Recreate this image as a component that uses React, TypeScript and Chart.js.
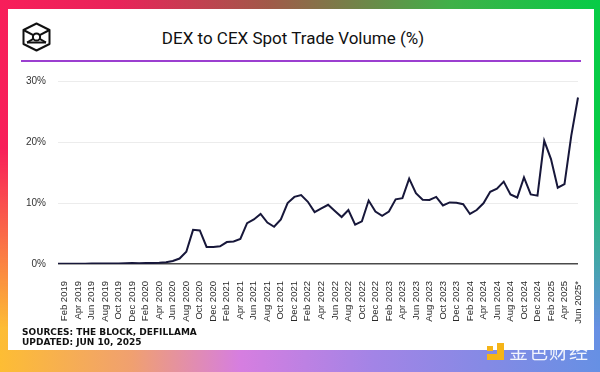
import React, { useEffect, useRef } from "react";
import { Chart, registerables } from "chart.js";

Chart.register(...registerables);

const MONTHS = ["Jan", "Feb", "Mar", "Apr", "May", "Jun", "Jul", "Aug", "Sep", "Oct", "Nov", "Dec"];
const YEARS = [2019, 2020, 2021, 2022, 2023, 2024, 2025];
const LAST_MONTH_2025 = 6;

const CATEGORIES: string[] = [];
YEARS.forEach((y) => {
  const n = y === 2025 ? LAST_MONTH_2025 : 12;
  for (let m = 0; m < n; m++) CATEGORIES.push(`${MONTHS[m]} ${y}`);
});
CATEGORIES[CATEGORIES.length - 1] = CATEGORIES[CATEGORIES.length - 1] + "*";

const DEX_CEX_2019 = [0.05, 0.05, 0.05, 0.06, 0.06, 0.07, 0.07, 0.08, 0.08, 0.1, 0.12, 0.15];
const DEX_CEX_2020 = [0.14, 0.15, 0.18, 0.2, 0.3, 0.5, 0.9, 2.0, 5.6, 5.5, 2.8, 2.8];
const DEX_CEX_2021 = [2.9, 3.6, 3.7, 4.1, 6.7, 7.3, 8.2, 6.8, 6.1, 7.3, 10.0, 11.0];
const DEX_CEX_2022 = [11.3, 10.2, 8.5, 9.1, 9.7, 8.7, 7.7, 8.85, 6.45, 7.0, 10.4, 8.6];
const DEX_CEX_2023 = [7.9, 8.6, 10.6, 10.8, 14.0, 11.6, 10.55, 10.5, 11.0, 9.6, 10.1, 10.05];
const DEX_CEX_2024 = [9.8, 8.2, 8.85, 9.95, 11.85, 12.35, 13.5, 11.4, 10.9, 14.2, 11.4, 11.2];
const DEX_CEX_2025 = [20.2, 17.2, 12.5, 13.1, 21.0, 27.3];

const VALUES = [
  ...DEX_CEX_2019,
  ...DEX_CEX_2020,
  ...DEX_CEX_2021,
  ...DEX_CEX_2022,
  ...DEX_CEX_2023,
  ...DEX_CEX_2024,
  ...DEX_CEX_2025,
];

const Y_TICKS = [0, 10, 20, 30];

const TITLE = "DEX to CEX Spot Trade Volume (%)";
const SOURCE_1 = "SOURCES: THE BLOCK, DEFILLAMA";
const SOURCE_2 = "UPDATED: JUN 10, 2025";

function Logo() {
  return (
    <svg width="29" height="30" viewBox="0 0 29 30" style={{ position: "absolute", left: 22, top: 22 }}>
      <g fill="none" stroke="#111" strokeWidth="2" strokeLinejoin="round">
        <polygon points="14.5,1.5 27.5,8 27.5,22 14.5,28.5 1.5,22 1.5,8" />
        <circle cx="14.5" cy="15" r="3.6" />
        <line x1="1.5" y1="8" x2="11.3" y2="13.2" />
        <line x1="27.5" y1="8" x2="17.7" y2="13.2" />
        <line x1="11.3" y1="16.8" x2="5" y2="20.5" />
        <line x1="17.7" y1="16.8" x2="24" y2="20.5" />
        <line x1="5" y1="20.5" x2="24" y2="20.5" />
      </g>
    </svg>
  );
}

export default function App() {
  const ref = useRef<HTMLCanvasElement>(null);

  useEffect(() => {
    if (!ref.current) return;
    const chart = new Chart(ref.current, {
      type: "line",
      data: {
        labels: CATEGORIES,
        datasets: [
          {
            data: VALUES,
            borderColor: "#17173a",
            borderWidth: 2,
            pointRadius: 0,
            tension: 0,
            fill: false,
          },
        ],
      },
      options: {
        responsive: false,
        devicePixelRatio: 1,
        animation: false,
        layout: { padding: { top: 81, right: 22, bottom: 0, left: 0 } },
        plugins: { legend: { display: false }, tooltip: { enabled: false } },
        scales: {
          x: {
            grid: { display: false },
            border: { display: false },
            ticks: {
              autoSkip: false,
              maxRotation: 90,
              minRotation: 90,
              padding: 9,
              color: "#2a2a2a",
              font: { family: "'Liberation Sans', Arial, sans-serif", size: 9.5 },
              callback: (_v: any, i: number) => (i % 2 === 1 ? CATEGORIES[i] : ""),
            },
            afterFit: (s: any) => {
              s.height = 108;
            },
          },
          y: {
            min: Y_TICKS[0],
            max: Y_TICKS[Y_TICKS.length - 1],
            afterBuildTicks: (s: any) => {
              s.ticks = Y_TICKS.map((v) => ({ value: v }));
            },
            ticks: {
              padding: 12,
              color: "#333",
              font: { family: "'Liberation Sans', Arial, sans-serif", size: 10 },
              callback: (v: any) => `${v}%`,
            },
            grid: {
              drawTicks: false,
              color: (c: any) => (c.tick && c.tick.value === 0 ? "#4a4a4a" : "#ececec"),
              lineWidth: (c: any) => (c.tick && c.tick.value === 0 ? 1.5 : 1),
            },
            border: { display: false },
            afterFit: (s: any) => {
              s.width = 58;
            },
          },
        },
      },
    });
    return () => chart.destroy();
  }, []);

  return (
    <div
      style={{
        position: "fixed",
        left: 0,
        top: 0,
        width: 600,
        height: 372,
        overflow: "hidden",
        background: "linear-gradient(to right, #fdbd34 0%, #f0a070 22%, #d67ee0 40%, #a384e6 62%, #6690e4 100%)",
      }}
    >
      <div
        style={{
          position: "absolute",
          inset: 0,
          background: "linear-gradient(to right, #f81e5a 0%, #e8245a 20%, #a05a48 45%, #40b048 75%, #06cc46 100%)",
          WebkitMaskImage: "linear-gradient(to bottom, black 0%, black 40%, transparent 88%)",
          maskImage: "linear-gradient(to bottom, black 0%, black 40%, transparent 88%)",
        }}
      />
      <div
        style={{
          position: "absolute",
          left: 8,
          top: 9,
          width: 586,
          height: 341,
          background: "#fff",
        }}
      />
      <Logo />
      <div
        style={{
          position: "absolute",
          left: 0,
          width: 586,
          top: 27,
          textAlign: "center",
          fontFamily: "Roboto, 'Noto Sans', sans-serif",
          fontSize: 17,
          color: "#111",
          lineHeight: "22px",
        }}
      >
        {TITLE}
      </div>
      <div style={{ position: "absolute", left: 21, top: 60, width: 560, height: 1.5, background: "#9b3fd0" }} />
      <canvas ref={ref} width={600} height={372} style={{ position: "absolute", left: 0, top: 0 }} />
      <div
        style={{
          position: "absolute",
          left: 22,
          top: 327,
          fontFamily: "'DejaVu Sans', sans-serif",
          fontWeight: "bold",
          fontSize: 9,
          lineHeight: "10px",
          color: "#111",
          whiteSpace: "pre",
        }}
      >
        {SOURCE_1}
        {"\n"}
        {SOURCE_2}
      </div>
      <div style={{ position: "absolute", left: 485, top: 343, width: 20, height: 18 }}>
        <div style={{ position: "absolute", left: 12, top: 0, width: 7, height: 17, background: "#f5b417" }} />
        <div style={{ position: "absolute", left: 2, top: 11, width: 17, height: 6, background: "#f5b417" }} />
        <div style={{ position: "absolute", left: 2, top: 3, width: 6, height: 5, background: "#f5b417" }} />
      </div>
      <div
        style={{
          position: "absolute",
          left: 509,
          top: 339,
          fontFamily: "'Noto Sans CJK SC', sans-serif",
          fontSize: 19,
          lineHeight: "24px",
          letterSpacing: 1,
          color: "rgba(255,255,255,0.9)",
        }}
      >
        金色财经
      </div>
    </div>
  );
}
